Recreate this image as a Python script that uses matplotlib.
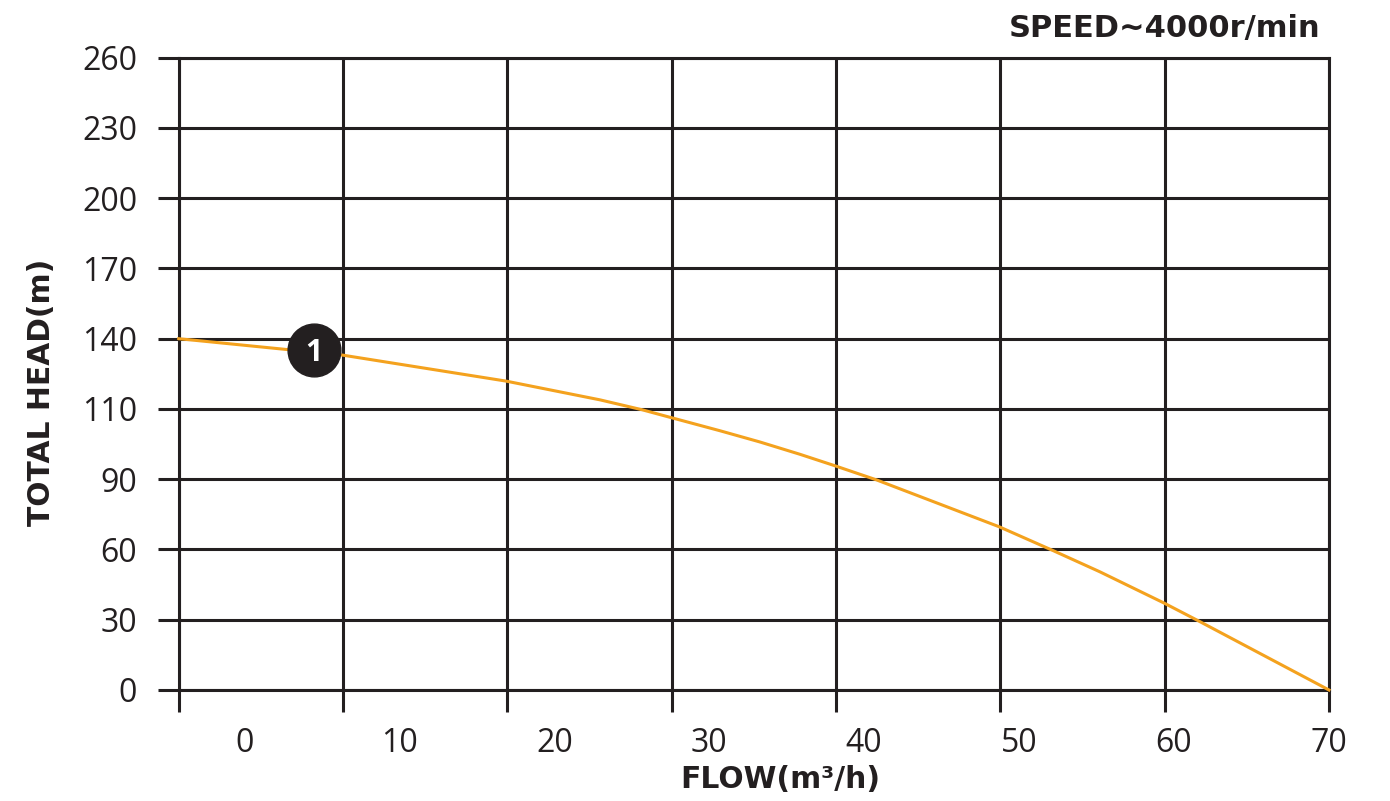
import numpy as np
import matplotlib
matplotlib.use('Agg')
import matplotlib.pyplot as plt

# pump curve
flow = [-4.24, 6.32, 16.88, 22.94, 25.64, 27.57, 30.69, 33.27, 35.85, 38.13,
        40.8, 48.71, 52.2, 55.2, 59.3, 61.55, 70.0]
head = [140.0, 133.0, 121.9, 113.9, 109.8, 107.5, 103.8, 100.6, 97.1, 93.8,
        89.7, 69.7, 59.5, 50.5, 37.3, 29.6, 0.0]

head_ticks = [0, 30, 60, 90, 110, 140, 170, 200, 230, 260]
flow_ticks = [0, 10, 20, 30, 40, 50, 60, 70]
flow_min = -4.24   # first vertical gridline sits left of the 0 label

marker_flow = 4.46
marker_head = 135.2

dark = '#231F20'
orange = '#F4A21E'

fig = plt.figure(figsize=(13.9, 8.01), dpi=100)
ax = fig.add_axes([0.1286, 0.1386, 0.8275, 0.7894])

# head labels are evenly spaced although the steps differ (90 -> 110)
idx = np.arange(len(head_ticks))
def fwd(v):
    return np.interp(v, head_ticks, idx)
def inv(v):
    return np.interp(v, idx, head_ticks)
ax.set_yscale('function', functions=(fwd, inv))
ax.set_ylim(0, 260)
ax.set_yticks(head_ticks)
ax.set_yticklabels([str(v) for v in head_ticks])

ax.set_xlim(flow_min, 70)
ax.set_xticks(flow_ticks)
ax.set_xticklabels([str(v) for v in flow_ticks])
ax.set_xticks(np.linspace(flow_min, 70, 8), minor=True)
ax.xaxis.remove_overlapping_locs = False

ax.tick_params(axis='x', which='major', length=0, pad=27, labelsize=23, labelcolor=dark)
ax.tick_params(axis='x', which='minor', length=15.5, width=2.2, color=dark, direction='out')
ax.tick_params(axis='y', which='major', length=15, width=2.2, color=dark, pad=15,
               labelsize=23, labelcolor=dark)
ax.tick_params(axis='y', which='minor', length=0)
for lab in ax.get_xticklabels() + ax.get_yticklabels():
    lab.set_family('Open Sans')

ax.grid(axis='y', which='major', color=dark, lw=2.2)
ax.grid(axis='x', which='minor', color=dark, lw=2.2)
ax.grid(axis='x', which='major', visible=False)
for s in ax.spines.values():
    s.set_color(dark)
    s.set_linewidth(2.2)

ax.plot(flow, head, color=orange, lw=2.2, zorder=3, clip_on=False)

ax.plot(marker_flow, marker_head, 'o', ms=38, color=dark, zorder=5, clip_on=False)
ax.text(marker_flow, marker_head, '1', color='white', ha='center', va='center_baseline',
        fontsize=22, fontweight='bold', family='Open Sans', zorder=6)

fig.text(1320 / 1390, 1 - 28 / 801, 'SPEED~4000r/min', ha='right', va='center',
         fontsize=22, fontweight='bold', family='DejaVu Sans', color=dark)
fig.text(42 / 1390, 1 - 392 / 801, 'TOTAL HEAD(m)', rotation=90, ha='center', va='center',
         fontsize=21.4, fontweight='bold', family='DejaVu Sans', color=dark)
fig.text(780 / 1390, 1 - 780 / 801, 'FLOW(m³/h)', ha='center', va='center',
         fontsize=21.4, fontweight='bold', family='DejaVu Sans', color=dark)

fig.savefig('out.png', dpi=100)
